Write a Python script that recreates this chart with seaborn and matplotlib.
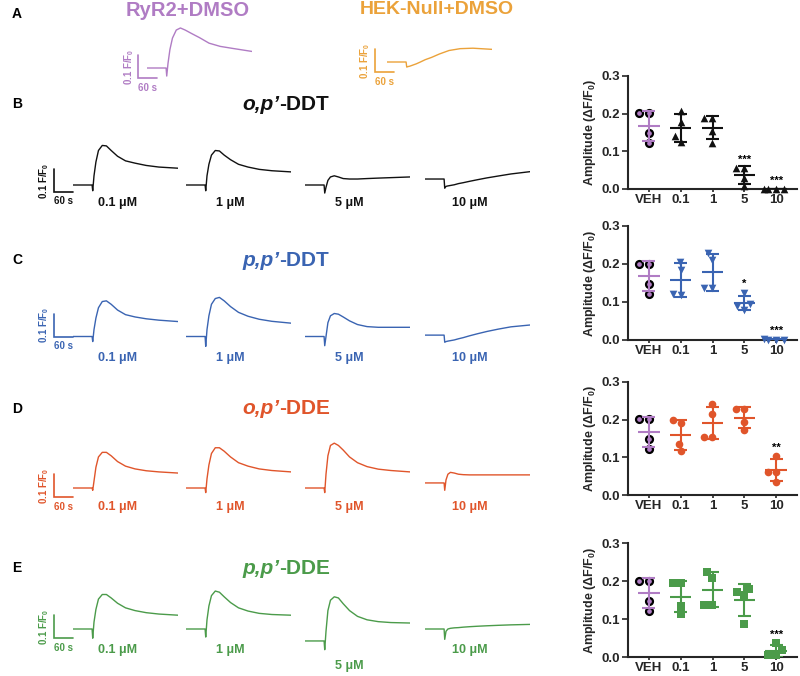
import numpy as np
import pandas as pd
import matplotlib.pyplot as plt
import seaborn as sns

# ==================== DATA ====================
# time points (s) at which each trace was read off the figure
trace_time = [0, 60, 62, 66, 72, 80, 92, 105, 120, 140, 165, 195, 230, 270, 330]

# panel A: control traces (dF/F0)
ryr2_dmso = [0, 0, -0.035, 0.02, 0.08, 0.13, 0.165, 0.174, 0.165, 0.15, 0.132, 0.108, 0.094, 0.085, 0.072]
hek_dmso = [0, 0, -0.022, -0.02, -0.018, -0.014, -0.008, 0.0, 0.01, 0.02, 0.035, 0.05, 0.058, 0.06, 0.055]

# panels B-E: traces at 0.1, 1, 5, 10 uM
op_ddt_traces = [
    [0, 0, -0.025, 0.04, 0.10, 0.15, 0.172, 0.17, 0.15, 0.125, 0.105, 0.095, 0.085, 0.078, 0.073],
    [0, 0, -0.025, 0.04, 0.09, 0.13, 0.15, 0.148, 0.13, 0.11, 0.09, 0.078, 0.068, 0.062, 0.057],
    [0, 0, -0.035, -0.01, 0.02, 0.035, 0.04, 0.035, 0.028, 0.026, 0.026, 0.028, 0.03, 0.032, 0.035],
    [0.026, 0.026, -0.014, -0.006, -0.004, -0.002, 0.001, 0.006, 0.01, 0.016, 0.023, 0.031, 0.039, 0.048, 0.058],
]
pp_ddt_traces = [
    [0, 0, -0.022, 0.03, 0.08, 0.125, 0.152, 0.155, 0.14, 0.115, 0.095, 0.085, 0.077, 0.071, 0.065],
    [0, 0, -0.043, 0.03, 0.09, 0.14, 0.165, 0.17, 0.155, 0.13, 0.105, 0.088, 0.075, 0.066, 0.058],
    [0, 0, -0.04, 0.0, 0.06, 0.09, 0.1, 0.097, 0.085, 0.068, 0.052, 0.043, 0.04, 0.04, 0.04],
    [0.006, 0.006, -0.025, -0.022, -0.02, -0.018, -0.015, -0.01, -0.005, 0.003, 0.012, 0.022, 0.032, 0.042, 0.05],
]
op_dde_traces = [
    [0, 0, -0.01, 0.03, 0.09, 0.135, 0.155, 0.155, 0.14, 0.115, 0.095, 0.083, 0.075, 0.07, 0.065],
    [0, 0, -0.02, 0.04, 0.10, 0.15, 0.175, 0.175, 0.16, 0.135, 0.11, 0.095, 0.083, 0.076, 0.07],
    [0, 0, -0.02, 0.06, 0.14, 0.185, 0.195, 0.185, 0.165, 0.135, 0.11, 0.093, 0.082, 0.076, 0.07],
    [0.022, 0.022, -0.01, 0.035, 0.06, 0.068, 0.065, 0.06, 0.058, 0.057, 0.057, 0.057, 0.057, 0.057, 0.057],
]
pp_dde_traces = [
    [0, 0, -0.04, 0.03, 0.085, 0.13, 0.15, 0.15, 0.135, 0.112, 0.092, 0.08, 0.071, 0.065, 0.06],
    [0, 0, -0.035, 0.04, 0.10, 0.145, 0.165, 0.16, 0.14, 0.115, 0.092, 0.078, 0.068, 0.063, 0.06],
    [-0.052, -0.052, -0.09, -0.01, 0.08, 0.125, 0.14, 0.135, 0.11, 0.08, 0.055, 0.04, 0.032, 0.028, 0.026],
    [0, 0, -0.045, -0.01, 0.0, 0.003, 0.005, 0.006, 0.008, 0.01, 0.012, 0.014, 0.016, 0.018, 0.02],
]

# amplitudes (dF/F0), 4 cells per dose
doses = ['VEH', '0.1', '1', '5', '10']
conc_labels = ['0.1 μM', '1 μM', '5 μM', '10 μM']
veh_amp = [0.201, 0.201, 0.148, 0.122]
op_ddt_amp = [[0.207, 0.178, 0.14, 0.125], [0.188, 0.188, 0.155, 0.122], [0.056, 0.056, 0.029, 0.007], [0.0, 0.0, 0.0, 0.0]]
pp_ddt_amp = [[0.205, 0.185, 0.12, 0.118], [0.228, 0.211, 0.136, 0.136], [0.125, 0.095, 0.09, 0.08], [0.0, 0.0, 0.003, 0.0]]
op_dde_amp = [[0.198, 0.19, 0.136, 0.116], [0.241, 0.214, 0.155, 0.155], [0.228, 0.228, 0.193, 0.172], [0.104, 0.062, 0.062, 0.035]]
pp_dde_amp = [[0.194, 0.194, 0.135, 0.113], [0.223, 0.209, 0.137, 0.137], [0.179, 0.17, 0.163, 0.088], [0.037, 0.018, 0.004, 0.004]]
op_ddt_sig = ['', '', '***', '***']
pp_ddt_sig = ['', '', '*', '***']
op_dde_sig = ['', '', '', '**']
pp_dde_sig = ['', '', '', '***']

# ==================== STYLE ====================
sns.set_style('ticks')
plt.rcParams['font.family'] = ['Liberation Sans', 'DejaVu Sans']
plt.rcParams['font.weight'] = 'bold'
plt.rcParams['axes.labelweight'] = 'bold'
plt.rcParams['mathtext.default'] = 'regular'

PURPLE = '#b07cc4'
ORANGE = '#eba23a'
BLACK = '#111111'
BLUE = '#3a64b2'
RED = '#e0552b'
GREEN = '#4b9b4a'

W, H = 800, 676
fig = plt.figure(figsize=(W / 100, H / 100), dpi=100)


def px_axes(left, top, width, height):
    return fig.add_axes([left / W, 1 - (top + height) / H, width / W, height / H])


def fig_text(x, y, s, **kw):
    fig.text(x / W, 1 - y / H, s, **kw)


def draw_trace(left, base, values, color):
    ax = px_axes(left, base - 46, 105, 69)
    sns.lineplot(x=trace_time, y=values, ax=ax, color=color, linewidth=1.0, estimator=None)
    ax.set_xlim(0, 330)
    ax.set_ylim(-0.1, 0.2)
    ax.axis('off')
    return ax


def scale_bar(ax, x0, y0, color):
    ax.plot([x0, x0, x0 + 60], [y0 + 0.1, y0, y0], color=color, lw=1.2,
            clip_on=False, solid_joinstyle='miter')
    ax.text(x0 - 8, y0 + 0.05, '0.1 F/F$_0$', rotation=90, ha='right', va='center',
            fontsize=7, color=color)
    ax.text(x0 + 30, y0 - 0.02, '60 s', ha='center', va='top', fontsize=7, color=color)


def draw_amp(top, height, amps, color, marker, sigs):
    ax = px_axes(628, top, 169, height)
    df = pd.DataFrame({'dose': np.repeat(doses[1:], 4), 'amp': np.concatenate(amps)})
    vdf = pd.DataFrame({'dose': ['VEH'] * len(veh_amp), 'amp': veh_amp})
    sns.swarmplot(data=df, x='dose', y='amp', order=doses, color=color, marker=marker,
                  size=5.5, linewidth=0, ax=ax, warn_thresh=1)
    sns.swarmplot(data=vdf, x='dose', y='amp', order=doses, color=PURPLE, edgecolor='black',
                  linewidth=1.6, size=5, ax=ax, warn_thresh=1)
    for c in ax.collections:
        c.set_clip_on(False)
    for i, vals in enumerate([veh_amp] + amps):
        col = PURPLE if i == 0 else color
        m, sd = np.mean(vals), np.std(vals, ddof=1)
        ax.hlines(m, i - 0.34, i + 0.34, color=col, lw=1.5, zorder=4)
        ax.vlines(i, m - sd, m + sd, color=col, lw=1.5, zorder=4)
        ax.hlines([m - sd, m + sd], i - 0.2, i + 0.2, color=col, lw=1.5, zorder=4)
        if i > 0 and sigs[i - 1]:
            ax.text(i, max(vals) + 0.022, sigs[i - 1], ha='center', va='center',
                    fontsize=8, color='black')
    ax.set_xlim(-0.65, 4.65)
    ax.set_ylim(0, 0.3)
    ax.set_yticks([0, 0.1, 0.2, 0.3])
    ax.set_yticklabels(['0.0', '0.1', '0.2', '0.3'])
    ax.set_xlabel('')
    ax.set_ylabel('Amplitude (ΔF/F$_0$)', fontsize=9, labelpad=3)
    sns.despine(ax=ax)
    for s in ['left', 'bottom']:
        ax.spines[s].set_linewidth(1.5)
    ax.tick_params(axis='y', labelsize=9.5, width=1.2, length=4, pad=1.5)
    ax.tick_params(axis='x', labelsize=9.5, width=1.2, length=2, pad=1.5)
    return ax


# ==================== PANEL A ====================
fig_text(12, 14, 'A', fontsize=10, ha='left', va='center', color='black')
fig_text(188, 10, 'RyR2+DMSO', fontsize=14.5, ha='center', va='center', color=PURPLE)
fig_text(437, 10, 'HEK-Null+DMSO', fontsize=14, ha='center', va='center', color=ORANGE)
ax = draw_trace(147, 68, ryr2_dmso, PURPLE)
scale_bar(ax, -28, -0.045, PURPLE)
ax = draw_trace(387, 62, hek_dmso, ORANGE)
scale_bar(ax, -38, -0.045, ORANGE)

# ==================== PANELS B-E ====================
rows = [
    ('B', 'o,p’', '-DDT', BLACK, '^', op_ddt_traces, op_ddt_amp, op_ddt_sig, 185, 104, 76, 113, -0.03, [-0.078] * 4),
    ('C', 'p,p’', '-DDT', BLUE, 'v', pp_ddt_traces, pp_ddt_amp, pp_ddt_sig, 336.5, 260, 226, 114, 0.0, [-0.093] * 4),
    ('D', 'o,p’', '-DDE', RED, 'o', op_dde_traces, op_dde_amp, op_dde_sig, 488, 409, 382, 113, -0.04, [-0.083] * 4),
    ('E', 'p,p’', '-DDE', GREEN, 's', pp_dde_traces, pp_dde_amp, pp_dde_sig, 629, 568, 543, 114, -0.04,
     [-0.091, -0.091, -0.16, -0.091]),
]
trace_left = [73, 186, 305, 425]

for (letter, ital, rest, color, marker, traces, amps, sigs,
     base, title_y, amp_top, amp_h, bar_y, lab_y) in rows:
    fig_text(12, title_y, letter, fontsize=10, ha='left', va='center', color='black')
    fig_text(279, title_y, ital, fontsize=15, ha='right', va='center', color=color, style='italic')
    fig_text(279, title_y, rest, fontsize=15, ha='left', va='center', color=color)
    for j, vals in enumerate(traces):
        ax = draw_trace(trace_left[j], base, vals, color)
        ax.text(140, lab_y[j], conc_labels[j], ha='center', va='center', fontsize=9, color=color)
        if j == 0:
            scale_bar(ax, -60, bar_y, color)
    draw_amp(amp_top, amp_h, amps, color, marker, sigs)

plt.savefig('out.png', dpi=100)
